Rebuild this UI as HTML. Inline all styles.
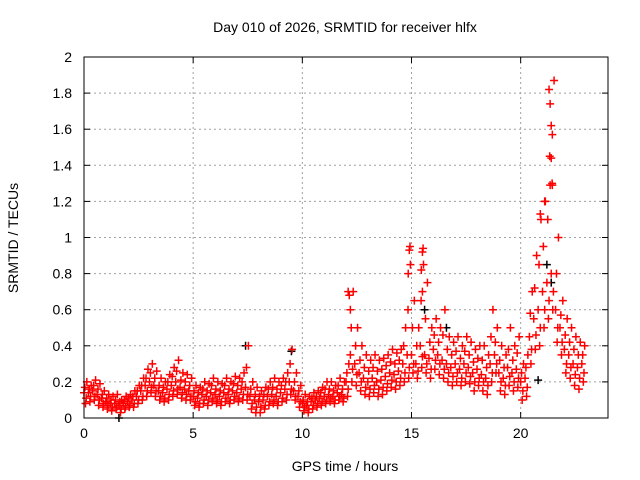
<!DOCTYPE html>
<html><head><meta charset="utf-8"><style>
body{margin:0;background:#fff;font-family:"Liberation Sans",sans-serif}
svg{display:block}
text{font-family:"Liberation Sans",sans-serif;font-size:14px;fill:#000}
</style></head><body>
<svg id="c" width="640" height="480"></svg>
<script>
const xTicks=[0,5,10,15,20];
const yTicks=[0,0.2,0.4,0.6,0.8,1,1.2,1.4,1.6,1.8,2];
const yTickLabels=["0","0.2","0.4","0.6","0.8","1","1.2","1.4","1.6","1.8","2"];
const step=0.2;
const midVals=[.14,.14,.15,.13,.11,.09,.08,.08,.07,.08,.09,.1,.12,.15,.18,.2,.18,.15,.14,.16,.18,.2,.17,.16,.15,.12,.11,.13,.12,.14,.13,.12,.14,.13,.15,.14,.16,.17,.12,.1,.09,.1,.12,.13,.12,.14,.16,.2,.15,.12,.08,.07,.09,.1,.11,.12,.13,.12,.14,.13,.2,.35,.3,.25,.22,.2,.22,.2,.21,.23,.25,.24,.26,.3,.35,.35,.3,.4,.35,.33,.38,.35,.32,.3,.28,.3,.27,.3,.28,.25,.27,.24,.22,.3,.35,.25,.22,.28,.25,.27,.2,.22,.45,.55,.6,.7,.75,.8,.6,.5,.38,.35,.3,.28,.3];
const loVals=[.08,.09,.1,.07,.06,.05,.04,.05,.03,.05,.06,.06,.08,.1,.12,.14,.12,.1,.09,.1,.12,.13,.11,.1,.1,.07,.06,.08,.07,.09,.08,.07,.09,.08,.1,.09,.1,.1,.05,.03,.03,.05,.07,.08,.07,.09,.1,.13,.1,.06,.04,.03,.05,.06,.07,.08,.09,.08,.1,.09,.12,.2,.18,.15,.13,.12,.14,.12,.13,.15,.17,.16,.18,.2,.22,.25,.22,.28,.25,.22,.27,.24,.22,.2,.18,.2,.18,.2,.19,.15,.18,.15,.13,.2,.25,.15,.13,.18,.15,.17,.1,.12,.3,.38,.4,.5,.55,.6,.42,.35,.25,.22,.18,.16,.2];
const hiVals=[.2,.18,.21,.19,.15,.13,.12,.13,.1,.12,.13,.15,.18,.22,.27,.3,.26,.22,.2,.24,.28,.32,.25,.24,.22,.18,.17,.2,.19,.22,.2,.19,.22,.2,.23,.22,.25,.4,.2,.17,.15,.17,.2,.22,.2,.22,.25,.38,.25,.18,.13,.12,.14,.15,.17,.2,.2,.18,.22,.2,.3,.7,.5,.4,.35,.32,.35,.32,.33,.35,.38,.36,.38,.5,.95,.65,.5,.94,.75,.5,.55,.5,.6,.45,.42,.45,.4,.45,.42,.38,.4,.4,.35,.6,.5,.4,.35,.5,.4,.45,.3,.35,.7,.9,1.1,1.2,1.45,1.87,1.0,.65,.55,.5,.45,.42,.4];
const q1Vals=[.11,.12,.12,.1,.08,.07,.06,.06,.05,.06,.07,.08,.1,.12,.15,.17,.15,.12,.11,.13,.15,.16,.14,.13,.12,.09,.08,.1,.1,.11,.1,.09,.11,.1,.12,.11,.13,.13,.08,.06,.06,.07,.09,.1,.09,.11,.13,.16,.12,.09,.06,.05,.07,.08,.09,.1,.11,.1,.12,.11,.16,.27,.24,.2,.17,.16,.18,.16,.17,.19,.21,.2,.22,.25,.28,.3,.26,.34,.3,.27,.32,.3,.27,.25,.23,.25,.22,.25,.23,.2,.22,.2,.18,.25,.3,.2,.18,.23,.2,.22,.15,.17,.38,.46,.5,.6,.65,.7,.5,.42,.3,.28,.24,.22,.25];
const q3Vals=[.17,.16,.18,.16,.13,.11,.1,.1,.09,.1,.11,.12,.15,.18,.22,.25,.22,.18,.17,.2,.23,.26,.21,.2,.18,.15,.14,.16,.15,.18,.16,.15,.18,.16,.19,.18,.2,.28,.16,.13,.12,.13,.16,.17,.16,.18,.2,.3,.2,.15,.1,.09,.11,.12,.14,.16,.16,.15,.18,.16,.25,.5,.4,.32,.28,.26,.28,.26,.27,.29,.31,.3,.32,.4,.6,.5,.4,.65,.55,.42,.46,.42,.46,.38,.35,.37,.33,.37,.35,.31,.33,.32,.28,.45,.42,.32,.28,.38,.32,.36,.25,.28,.58,.72,.85,.95,1.1,1.3,.8,.57,.46,.42,.38,.35,.35];
const spikeTimes=[21.3,21.35,21.4,21.45,21.4,21.35,21.45,20.9,21.1,14.9,14.95,14.85,15.5,15.55,15.45,15.5,12.1,12.15,12.2];
const spikeVals=[1.82,1.74,1.62,1.57,1.44,1.29,1.29,1.13,1.2,0.93,0.85,0.8,0.92,0.85,0.82,0.7,0.7,0.68,0.6];
const blackTimes=[1.6,7.4,9.5,15.6,16.6,20.8,21.2,21.4];
const blackVals=[0.0,0.4,0.37,0.6,0.5,0.21,0.85,0.75];

const L=84,R=608,T=57,B=418;
const xs=t=>L+t*(R-L)/24;
const ys=v=>B-v*(B-T)/2;
const NS="http://www.w3.org/2000/svg";
const svg=document.getElementById('c');
function mk(tag,attrs,parent){const e=document.createElementNS(NS,tag);for(const k in attrs)e.setAttribute(k,attrs[k]);(parent||svg).appendChild(e);return e;}

const grid=mk('g',{});


xTicks.forEach(t=>{if(t>0)mk('line',{x1:xs(t),x2:xs(t),y1:T,y2:B,stroke:'#a0a0a0','stroke-dasharray':'2,3'},grid);});
yTicks.forEach(v=>{if(v>0&&v<2)mk('line',{x1:L,x2:R,y1:ys(v),y2:ys(v),stroke:'#a0a0a0','stroke-dasharray':'2,3'},grid);});

const xa=mk('g',{});


xTicks.forEach(t=>{
  mk('line',{x1:xs(t),x2:xs(t),y1:B,y2:B-6,stroke:'#000'},xa);
  mk('line',{x1:xs(t),x2:xs(t),y1:T,y2:T+6,stroke:'#000'},xa);
  const tx=mk('text',{x:xs(t),y:B+20,'text-anchor':'middle'},xa);tx.textContent=t;
});
const ya=mk('g',{});


yTicks.forEach((v,i)=>{
  mk('line',{x1:L,x2:L+6,y1:ys(v),y2:ys(v),stroke:'#000'},ya);
  mk('line',{x1:R,x2:R-6,y1:ys(v),y2:ys(v),stroke:'#000'},ya);
  const tx=mk('text',{x:L-12,y:ys(v)+5,'text-anchor':'end'},ya);tx.textContent=yTickLabels[i];
});

function plus(x,y,col,g){mk('path',{d:`M${x-4},${y}h8M${x},${y-4}v8`,stroke:col,'stroke-width':1.5,fill:'none'},g);}
const bk=mk('g',{});


blackTimes.forEach((t,i)=>plus(xs(t),ys(blackVals[i]),'#000',bk));
const rd=mk('g',{});


midVals.forEach((v,i)=>{
  const t=i*step;
  if(loVals[i]!==undefined)plus(xs(t+0.07),ys(loVals[i]),'#f00',rd);
  if(q1Vals[i]!==undefined)plus(xs(t+0.1),ys(q1Vals[i]),'#f00',rd);
  plus(xs(t),ys(v),'#f00',rd);
  if(q3Vals[i]!==undefined)plus(xs(t+0.04),ys(q3Vals[i]),'#f00',rd);
  if(hiVals[i]!==undefined)plus(xs(t+0.13),ys(hiVals[i]),'#f00',rd);
});
spikeTimes.forEach((t,i)=>plus(xs(t),ys(spikeVals[i]),'#f00',rd));

const fr=mk('rect',{x:L,y:T,width:R-L,height:B-T,fill:'none',stroke:'#000'});


const ti=mk('text',{x:345,y:32,'text-anchor':'middle'});ti.textContent='Day 010 of 2026, SRMTID for receiver hlfx';


const xt=mk('text',{x:345,y:471,'text-anchor':'middle'});xt.textContent='GPS time / hours';


const yt=mk('text',{x:0,y:0,'text-anchor':'middle',transform:'translate(18,238) rotate(-90)'});yt.textContent='SRMTID / TECUs';


</script>
</body></html>
